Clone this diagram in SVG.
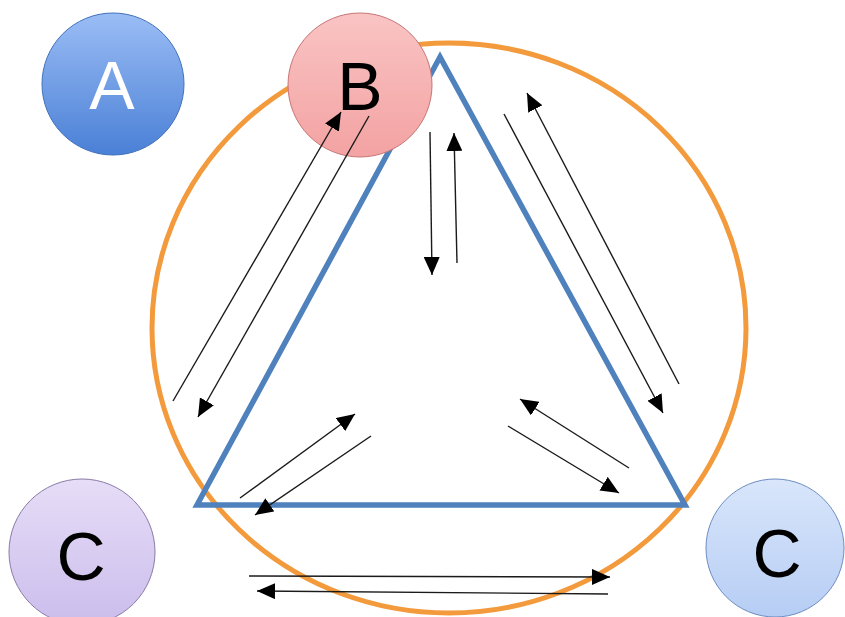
<svg xmlns="http://www.w3.org/2000/svg" width="845" height="617" viewBox="0 0 845 617">
<defs>
<linearGradient id="gA" x1="0" y1="0" x2="0" y2="1"><stop offset="0" stop-color="#9bbdf5"/><stop offset="1" stop-color="#4a80d6"/></linearGradient>
<linearGradient id="gB" x1="0" y1="0" x2="0" y2="1"><stop offset="0" stop-color="#fac4c4"/><stop offset="1" stop-color="#f3a2a2"/></linearGradient>
<linearGradient id="gC1" x1="0" y1="0" x2="0" y2="1"><stop offset="0" stop-color="#e6ddf7"/><stop offset="1" stop-color="#cbbdec"/></linearGradient>
<linearGradient id="gC2" x1="0" y1="0" x2="0" y2="1"><stop offset="0" stop-color="#d9e6fb"/><stop offset="1" stop-color="#b6cdf4"/></linearGradient>
<marker id="ah" markerUnits="userSpaceOnUse" markerWidth="20" markerHeight="16" refX="18" refY="8" orient="auto">
<path d="M0,0 L18,8 L0,16 Z" fill="#000"/>
</marker>
</defs>
<style>
.lbl{font-family:"Liberation Sans",Arial,sans-serif;font-size:68px;text-anchor:middle}
.arr{stroke:#1a1a1a;stroke-width:1.4;fill:none;marker-end:url(#ah)}
</style>
<rect width="845" height="617" fill="#fff"/>
<ellipse cx="449" cy="328" rx="297" ry="285" fill="none" stroke="#f39a3c" stroke-width="5"/>
<polygon points="440,57 197,505 685,505" fill="none" stroke="#4f81bd" stroke-width="5.5" stroke-linejoin="miter"/>
<g id="nodeA"><circle cx="113" cy="84" r="71" fill="url(#gA)" stroke="#4272bb" stroke-width="1"/><text class="lbl" x="112" y="109" fill="#fff">A</text></g>
<g id="nodeB"><circle cx="360" cy="85" r="72" fill="url(#gB)" stroke="#c77575" stroke-width="1"/><text class="lbl" x="360" y="110" fill="#000">B</text></g>
<g id="nodeC1"><circle cx="82" cy="552" r="73" fill="url(#gC1)" stroke="#8a7ba8" stroke-width="1"/><text class="lbl" x="81" y="580" fill="#000">C</text></g>
<g id="nodeC2"><circle cx="775" cy="548" r="69" fill="url(#gC2)" stroke="#6d8cc2" stroke-width="1"/><text class="lbl" x="777" y="577" fill="#000">C</text></g>
<g id="connectors">
<line class="arr" x1="173" y1="401" x2="341" y2="112"/>
<line class="arr" x1="369" y1="116" x2="198" y2="417"/>
<line class="arr" x1="430" y1="132" x2="432" y2="275"/>
<line class="arr" x1="457" y1="263" x2="454" y2="133"/>
<line class="arr" x1="679" y1="384" x2="527" y2="93"/>
<line class="arr" x1="504" y1="114" x2="663" y2="413"/>
<line class="arr" x1="240" y1="498" x2="355" y2="414"/>
<line class="arr" x1="371" y1="436" x2="255" y2="515"/>
<line class="arr" x1="629" y1="468" x2="520" y2="399"/>
<line class="arr" x1="508" y1="426" x2="619" y2="493"/>
<line class="arr" x1="249" y1="576" x2="610" y2="577"/>
<line class="arr" x1="608" y1="594" x2="257" y2="591"/>
</g>
</svg>
